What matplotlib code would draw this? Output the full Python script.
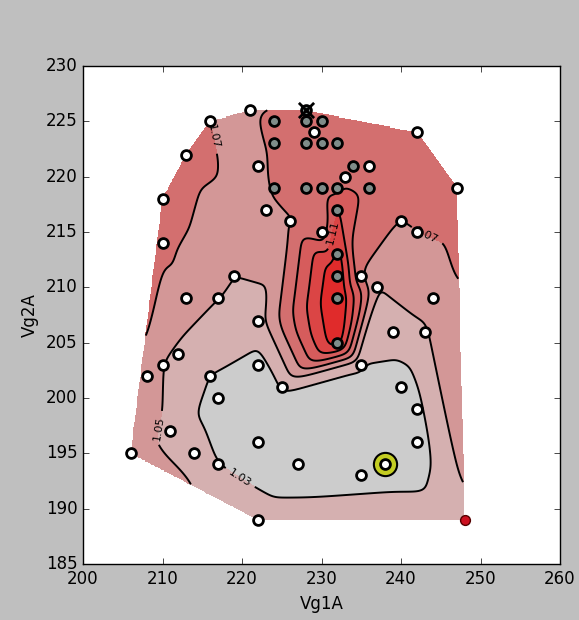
import numpy as np
import matplotlib
matplotlib.use('Agg')
import matplotlib.pyplot as plt
import matplotlib.tri as mtri

plt.style.use('classic')

# measured points (white markers)
white_x = [221, 216, 213, 210, 222, 223, 226, 230, 229, 233, 236, 242, 247, 240, 242,
           210, 219, 217, 213, 222, 212, 210, 208, 216, 222, 225, 217,
           235, 237, 244, 239, 243, 235, 240, 242, 242, 235,
           211, 206, 214, 217, 222, 227, 222]
white_y = [226, 225, 222, 218, 221, 217, 216, 215, 224, 220, 221, 224, 219, 216, 215,
           214, 211, 209, 209, 207, 204, 203, 202, 202, 203, 201, 200,
           211, 210, 209, 206, 206, 203, 201, 199, 196, 193,
           197, 195, 195, 194, 196, 194, 189]
white_z = [1.066, 1.070, 1.078, 1.082, 1.060, 1.058, 1.069, 1.071, 1.078, 1.080, 1.080, 1.080, 1.080, 1.070, 1.070,
           1.075, 1.050, 1.050, 1.063, 1.040, 1.045, 1.050, 1.066, 1.030, 1.024, 1.030, 1.020,
           1.070, 1.050, 1.060, 1.040, 1.047, 1.030, 1.020, 1.024, 1.022, 1.020,
           1.042, 1.063, 1.038, 1.030, 1.015, 1.015, 1.040]

# grey markers
grey_x = [224, 228, 230, 224, 228, 230, 232, 234, 224, 228, 230, 232, 236,
          232, 232, 232, 232, 232]
grey_y = [225, 225, 225, 223, 223, 223, 223, 221, 219, 219, 219, 219, 219,
          217, 213, 211, 209, 205]
grey_z = [1.076, 1.077, 1.078, 1.077, 1.078, 1.079, 1.080, 1.080, 1.076, 1.078, 1.079, 1.078, 1.080,
          1.115, 1.145, 1.150, 1.155, 1.145]

best_x, best_y, best_z = [238], [194], [1.012]
red_x, red_y, red_z = [248], [189], [1.048]
cross_x, cross_y, cross_z = [228], [226], [1.070]

levels = [1.03, 1.05, 1.07, 1.09, 1.11, 1.13]
band_colors = ['#cccccc', '#d5b0b0', '#d39797', '#d36f6f', '#d65c5c', '#db4545', '#e02b2b']

x = np.array(white_x + grey_x + best_x + red_x + cross_x, dtype=float)
y = np.array(white_y + grey_y + best_y + red_y + cross_y, dtype=float)
z = np.array(white_z + grey_z + best_z + red_z + cross_z, dtype=float)

tri = mtri.Triangulation(x, y)
interp = mtri.LinearTriInterpolator(tri, z)
gx, gy = np.meshgrid(np.linspace(200, 260, 601), np.linspace(185, 230, 451))
gz = interp(gx, gy)

# soften the linear facets a little (masked gaussian smoothing)
mask = np.ma.getmaskarray(gz)
vals = np.where(mask, 0.0, np.ma.getdata(gz))
wts = (~mask).astype(float)
s = 5
kern = np.exp(-0.5 * (np.arange(-3 * s, 3 * s + 1) / s) ** 2)
kern /= kern.sum()
for axis in (0, 1):
    vals = np.apply_along_axis(lambda m: np.convolve(m, kern, mode='same'), axis, vals)
    wts = np.apply_along_axis(lambda m: np.convolve(m, kern, mode='same'), axis, wts)
gz = np.ma.masked_array(vals / np.maximum(wts, 1e-9), mask=mask)

fig = plt.figure(figsize=(5.79, 6.2), dpi=100)
ax = fig.add_axes([0.1434, 0.0903, 0.8238, 0.8032])

ax.contourf(gx, gy, gz, levels=[0.9] + levels + [1.3], colors=band_colors)
cs = ax.contour(gx, gy, gz, levels=levels, colors='k', linewidths=1.4)
ax.clabel(cs, fmt='%.2f', fontsize=8, inline=True,
          manual=[(219.5, 192.5), (208.3, 197.5), (216.3, 223.6), (243.2, 214.6), (231.4, 215.0)])

ax.scatter(white_x, white_y, s=50, c='white', edgecolors='k', linewidths=2, zorder=5)
ax.scatter(grey_x, grey_y, s=50, c='#7f8c89', edgecolors='k', linewidths=2, zorder=5)
ax.scatter(cross_x, cross_y, s=50, c='#7f8c89', edgecolors='k', linewidths=2, zorder=5)
ax.scatter(cross_x, cross_y, s=120, marker='x', c='k', linewidths=2, zorder=6)
ax.scatter(best_x, best_y, s=280, c='#c3cc22', edgecolors='k', linewidths=1.5, zorder=5)
ax.scatter(best_x, best_y, s=50, c='white', edgecolors='k', linewidths=2, zorder=6)
ax.scatter(red_x, red_y, s=50, c='#cc1020', edgecolors='#550000', linewidths=1, zorder=5)

ax.set_xlim(200, 260)
ax.set_ylim(185, 230)
ax.set_xticks(range(200, 261, 10))
ax.set_yticks(range(185, 231, 5))
ax.set_xlabel('Vg1A')
ax.set_ylabel('Vg2A')

fig.savefig('out.png', dpi=100, facecolor=fig.get_facecolor())
